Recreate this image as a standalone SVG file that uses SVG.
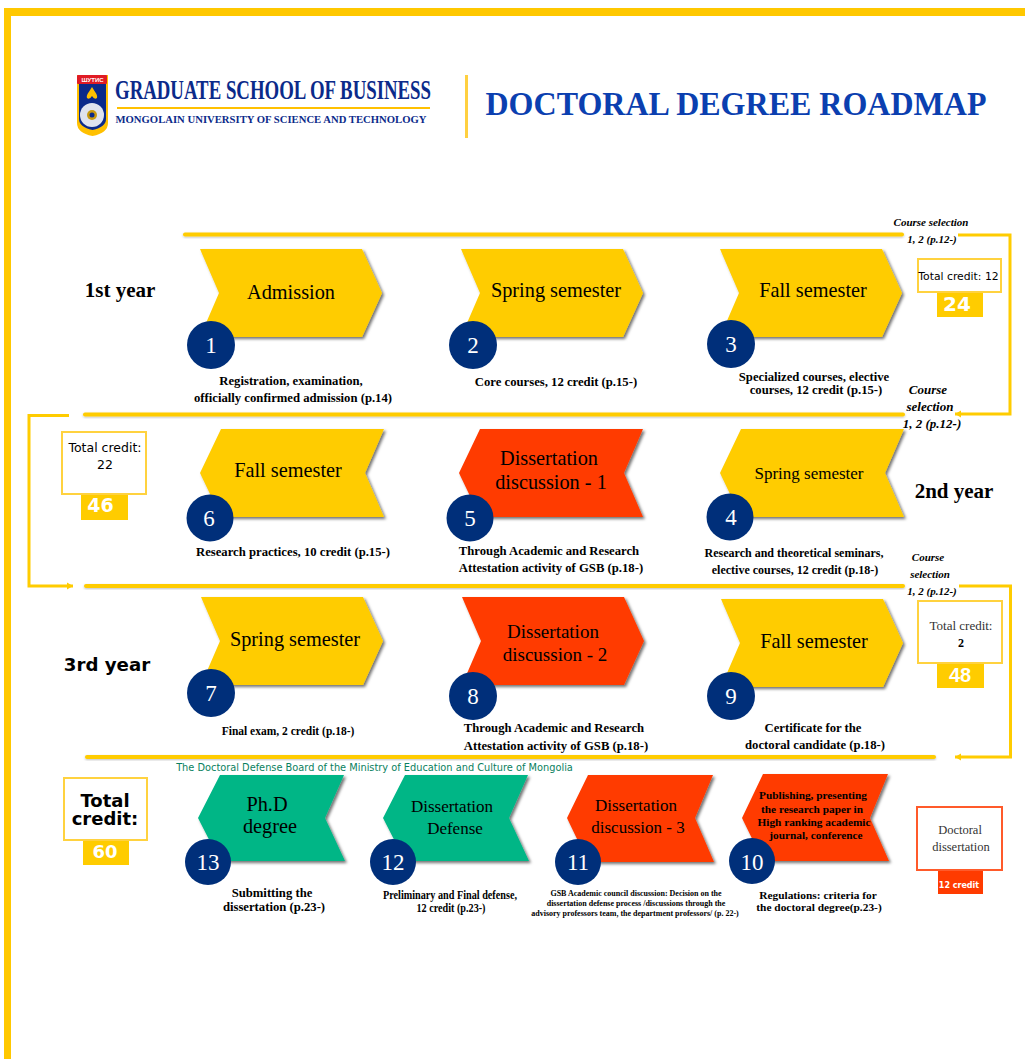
<svg xmlns="http://www.w3.org/2000/svg" width="1025" height="1059" viewBox="0 0 1025 1059">
<style>
text{font-family:"Liberation Serif","Times New Roman",serif;text-anchor:middle;fill:#000}
.s{font-family:"DejaVu Sans","Liberation Sans",sans-serif}
.y{fill:#ffcc00}.r{fill:#ff3b00}.g{fill:#00b686}
.t{font-size:20.3px}
.d{font-size:12.700px;font-weight:bold}
.n{font-size:23px;fill:#fff}
.c{fill:#002f7a}
.cs{font-size:11px;font-weight:bold;font-style:italic}
.cm{font-size:13px}
.box{fill:#fff;stroke:#ffd23f;stroke-width:2}
.big{font-family:"DejaVu Sans",sans-serif;font-weight:bold;font-size:20px;fill:#fff}
.yr{font-size:21px;font-weight:bold}
.l{fill:none;stroke:#ffcc00;stroke-width:3}
.bar{fill:#ffcc00}
</style>
<defs>
<filter id="sh" x="-10%" y="-10%" width="125%" height="125%"><feDropShadow dx="2" dy="2" stdDeviation="1.500" flood-color="#000" flood-opacity=".55"/></filter>
<filter id="bs" x="-2%" y="-50%" width="104%" height="200%"><feDropShadow dx="0" dy="1" stdDeviation="1" flood-color="#000" flood-opacity=".25"/></filter>
<polygon id="right" points="0,0 162,0 182,44 162,88 0,88 19,44"/>
<polygon id="left" points="0,44 21,0 184,0 165,44 184,88 21,88"/>
<marker id="a" markerUnits="userSpaceOnUse" markerWidth="7" markerHeight="8" refX="6" refY="4" orient="auto"><path d="M0,0.500L6,4L0,7.500Z" fill="#ffcc00"/></marker>
</defs>
<rect width="1025" height="1059" fill="#fff"/>
<g id="frame"><rect x="4" y="8" width="1021" height="8" fill="#ffc800"/><rect x="4" y="8" width="7" height="1051" fill="#ffc800"/></g>

<g id="header">
<path d="M77,75H108V123Q108,133 92.500,136Q77,133 77,123Z" fill="#ffc000"/>
<path d="M79,82H106V119Q106,127 92.500,130Q79,127 79,119Z" fill="#0b2a8a"/>
<rect x="77" y="75" width="30" height="9" rx="1" fill="#e01b24"/>
<text x="92.500" y="82" style="font-family:'Liberation Sans',sans-serif;font-size:6px;font-weight:bold;fill:#fff">ШУТИС</text>
<path d="M92,87C95,92 98,95 97,98Q94.500,100 92,96Q89.500,100 87,98C86,95 89,92 92,87Z" fill="#ffc000"/>
<circle cx="92" cy="115" r="12" fill="#dfe3ee"/><circle cx="92" cy="115" r="5" fill="#c89a10"/><circle cx="92" cy="115" r="2.500" fill="#0b2a8a"/>
<text transform="translate(273 98.500) scale(1 1.120)" x="0" y="0" textLength="316" lengthAdjust="spacingAndGlyphs" style="font-size:25px;font-weight:bold;fill:#0b2a8a">GRADUATE SCHOOL OF BUSINESS</text>
<rect x="117" y="107" width="313" height="2" fill="#ffc000"/>
<text x="271" y="123" textLength="311" lengthAdjust="spacingAndGlyphs" style="font-size:10.500px;font-weight:bold;fill:#0b2a8a">MONGOLAIN UNIVERSITY OF SCIENCE AND TECHNOLOGY</text>
<rect x="465" y="75" width="3" height="63" fill="#ffd040"/>
<text x="736" y="115" textLength="501" lengthAdjust="spacingAndGlyphs" style="font-size:33px;font-weight:bold;fill:#0b3fb0">DOCTORAL DEGREE ROADMAP</text>
</g>

<g id="connectors">
<rect class="bar" filter="url(#bs)" x="183" y="232.500" width="721" height="4" rx="2"/>
<path class="l" d="M958,235H1010V414H955" marker-end="url(#a)"/>
<rect class="bar" filter="url(#bs)" x="83" y="412.500" width="822" height="4" rx="2"/>
<path class="l" d="M69,415.500H29V586H73" marker-end="url(#a)"/>
<rect class="bar" filter="url(#bs)" x="84" y="584" width="821" height="4" rx="2"/>
<path class="l" d="M959,586H1010.500V757H955" marker-end="url(#a)"/>
<rect class="bar" filter="url(#bs)" x="85" y="755" width="851" height="4" rx="2"/>
</g>

<g id="labels">
<text class="yr" x="120" y="297">1st year</text>
<text class="yr" x="954" y="498">2nd year</text>
<text class="yr" x="107" y="671" style="font-family:'DejaVu Sans',sans-serif;font-size:18.200px">3rd year</text>
<text class="cs" x="931" y="226">Course selection</text>
<text class="cs" x="932" y="243">1, 2 (p.12-)</text>
<text class="cs cm" x="928" y="394">Course</text>
<text class="cs cm" x="930" y="411">selection</text>
<text class="cs cm" x="932" y="428">1, 2 (p.12-)</text>
<text class="cs" x="928" y="561">Course</text>
<text class="cs" x="930" y="578">selection</text>
<text class="cs" x="932" y="595">1, 2 (p.12-)</text>
<text class="s" x="374.500" y="771" style="font-size:9.800px;fill:#0a7f60">The Doctoral Defense Board of the Ministry of Education and Culture of Mongolia</text>
</g>

<g id="n1"><use href="#right" x="200" y="249" class="y" filter="url(#sh)"/><text class="t" x="291" y="299">Admission</text><circle class="c" cx="211" cy="345" r="24"/><text class="n" x="211" y="353">1</text><text class="d" x="291" y="385">Registration, examination,</text><text class="d" x="293" y="402">officially confirmed admission (p.14)</text></g>
<g id="n2"><use href="#right" x="461" y="249" class="y" filter="url(#sh)"/><text class="t" x="556" y="297">Spring semester</text><circle class="c" cx="473" cy="345" r="24"/><text class="n" x="473" y="353">2</text><text class="d" x="556" y="386">Core courses, 12 credit (p.15-)</text></g>
<g id="n3"><use href="#right" x="720" y="249" class="y" filter="url(#sh)"/><text class="t" x="813" y="297">Fall semester</text><circle class="c" cx="731" cy="344" r="24"/><text class="n" x="731" y="352">3</text><text class="d" x="814" y="381">Specialized courses, elective</text><text class="d" x="816" y="394">courses, 12 credit (p.15-)</text></g>
<g id="credit12"><rect class="box" x="918" y="259" width="83" height="33"/><text class="s" x="958.500" y="280" style="font-size:10.800px">Total credit: 12</text><rect class="bar" x="937" y="293" width="46" height="24"/><text class="big" x="957" y="311">24</text></g>

<g id="n6"><use href="#left" x="200" y="429" class="y" filter="url(#sh)"/><text class="t" x="288" y="477">Fall semester</text><circle class="c" cx="210" cy="518" r="23.500"/><text class="n" x="209" y="526">6</text><text class="d" x="293" y="556">Research practices, 10 credit (p.15-)</text></g>
<g id="n5"><use href="#left" x="459" y="429" class="r" filter="url(#sh)"/><text class="t" x="549" y="465">Dissertation</text><text class="t" x="551" y="489">discussion - 1</text><circle class="c" cx="470" cy="518" r="23.500"/><text class="n" x="470" y="526">5</text><text class="d" x="549" y="555">Through Academic and Research</text><text class="d" x="551" y="572">Attestation activity of GSB (p.18-)</text></g>
<g id="n4"><use href="#left" x="720" y="429" class="y" filter="url(#sh)"/><text class="t" x="809" y="479" style="font-size:17px">Spring semester</text><circle class="c" cx="730" cy="517" r="23.500"/><text class="n" x="731" y="525">4</text><text class="d" x="794" y="557" style="font-size:12px">Research and theoretical seminars,</text><text class="d" x="795" y="574" style="font-size:12px">elective courses, 12 credit (p.18-)</text></g>
<g id="credit22"><rect class="box" x="62" y="432" width="84" height="62"/><text class="s" x="105" y="452" style="font-size:12.500px">Total credit:</text><text class="s" x="105" y="469" style="font-size:12.500px">22</text><rect class="bar" x="81" y="495" width="47" height="25"/><text class="big" x="100.500" y="512" style="font-size:19px">46</text></g>

<g id="n7"><use href="#right" x="201" y="597" class="y" filter="url(#sh)"/><text class="t" x="295" y="646">Spring semester</text><circle class="c" cx="211" cy="693" r="24"/><text class="n" x="211" y="701">7</text><text class="d" x="288" y="735" style="font-size:11.500px">Final exam, 2 credit (p.18-)</text></g>
<g id="n8"><use href="#right" x="462" y="597" class="r" filter="url(#sh)"/><text class="t" x="553" y="638" style="font-size:19px">Dissertation</text><text class="t" x="555" y="661" style="font-size:19px">discussion - 2</text><circle class="c" cx="473" cy="696" r="24"/><text class="n" x="473" y="704">8</text><text class="d" x="554" y="732">Through Academic and Research</text><text class="d" x="556" y="750">Attestation activity of GSB (p.18-)</text></g>
<g id="n9"><use href="#right" x="721" y="599" class="y" filter="url(#sh)"/><text class="t" x="814" y="648">Fall semester</text><circle class="c" cx="731" cy="696" r="24"/><text class="n" x="731" y="704">9</text><text class="d" x="813" y="732">Certificate for the</text><text class="d" x="815" y="749">doctoral candidate (p.18-)</text></g>
<g id="credit2"><rect class="box" x="918" y="601" width="84" height="62"/><text x="961" y="630" style="font-size:13px;fill:#333">Total credit:</text><text x="961" y="647" style="font-size:12px;font-weight:bold">2</text><rect class="bar" x="937" y="664" width="47" height="24"/><text class="big" x="960" y="682" style="font-family:'Liberation Sans',sans-serif">48</text></g>

<g id="total"><rect class="box" x="64" y="778" width="83" height="62"/><text class="s" x="105" y="807" style="font-size:18px;font-weight:bold">Total<tspan x="105" dy="17.500">credit:</tspan></text><rect class="bar" x="83" y="841" width="46" height="24"/><text class="big" x="105" y="858" style="font-size:18px">60</text></g>
<g id="n13"><polygon class="g" filter="url(#sh)" points="198,818 220,775 344,775 325,818 345,861 220,861"/><text class="t" x="267" y="811">Ph.D</text><text class="t" x="270" y="833">degree</text><circle class="c" cx="208" cy="862" r="23"/><text class="n" x="208" y="870">13</text><text class="d" x="272" y="897">Submitting the</text><text class="d" x="274" y="911">dissertation (p.23-)</text></g>
<g id="n12"><polygon class="g" filter="url(#sh)" points="383,818 405,775 528,775 509,818 529,861 405,861"/><text class="t" x="452" y="812" style="font-size:17px">Dissertation</text><text class="t" x="455" y="834" style="font-size:17px">Defense</text><circle class="c" cx="393" cy="862" r="23"/><text class="n" x="393" y="870">12</text><text class="d" x="450" y="899" textLength="134" lengthAdjust="spacingAndGlyphs" style="font-size:12px">Preliminary and Final defense,</text><text class="d" x="451" y="912" textLength="69" lengthAdjust="spacingAndGlyphs" style="font-size:12px">12 credit (p.23-)</text></g>
<g id="n11"><polygon class="r" filter="url(#sh)" points="567,818 588,775 713,775 695,818 714,862 588,862"/><text class="t" x="636" y="811" style="font-size:17px">Dissertation</text><text class="t" x="638" y="833" style="font-size:17px">discussion - 3</text><circle class="c" cx="578" cy="862" r="23"/><text class="n" x="578" y="870">11</text><text class="d" x="636" y="896" style="font-size:8px">GSB Academic council discussion: Decision on the</text><text class="d" x="636" y="906" style="font-size:8px">dissertation defense process /discussions through the</text><text class="d" x="635" y="916" style="font-size:8px">advisory professors team, the department professors/ (p. 22-)</text></g>
<g id="n10"><polygon class="r" filter="url(#sh)" points="742,818 763,774 888,774 870,818 889,861 763,861"/><text class="d" x="813" y="799" style="font-size:11.300px">Publishing, presenting</text><text class="d" x="812" y="813" style="font-size:11.300px">the research paper in</text><text class="d" x="814" y="826" style="font-size:11.300px">High ranking academic</text><text class="d" x="816" y="839" style="font-size:11.300px">journal, conference</text><circle class="c" cx="752" cy="861" r="23"/><text class="n" x="752" y="870">10</text><text class="d" x="818" y="899" style="font-size:11.400px">Regulations: criteria for</text><text class="d" x="819" y="911" style="font-size:11.400px">the doctoral degree(p.23-)</text></g>
<g id="credit-dissertation"><rect x="917" y="807" width="85" height="63" fill="#fff" stroke="#ff5a2a" stroke-width="2"/><text x="960" y="834" style="font-size:12.500px;fill:#333">Doctoral</text><text x="961" y="851" style="font-size:12.500px;fill:#333">dissertation</text><rect class="r" x="938" y="871" width="45" height="23"/><text class="s" x="959" y="888" style="font-size:8px;font-weight:bold;fill:#fff">12 credit</text></g>
</svg>
